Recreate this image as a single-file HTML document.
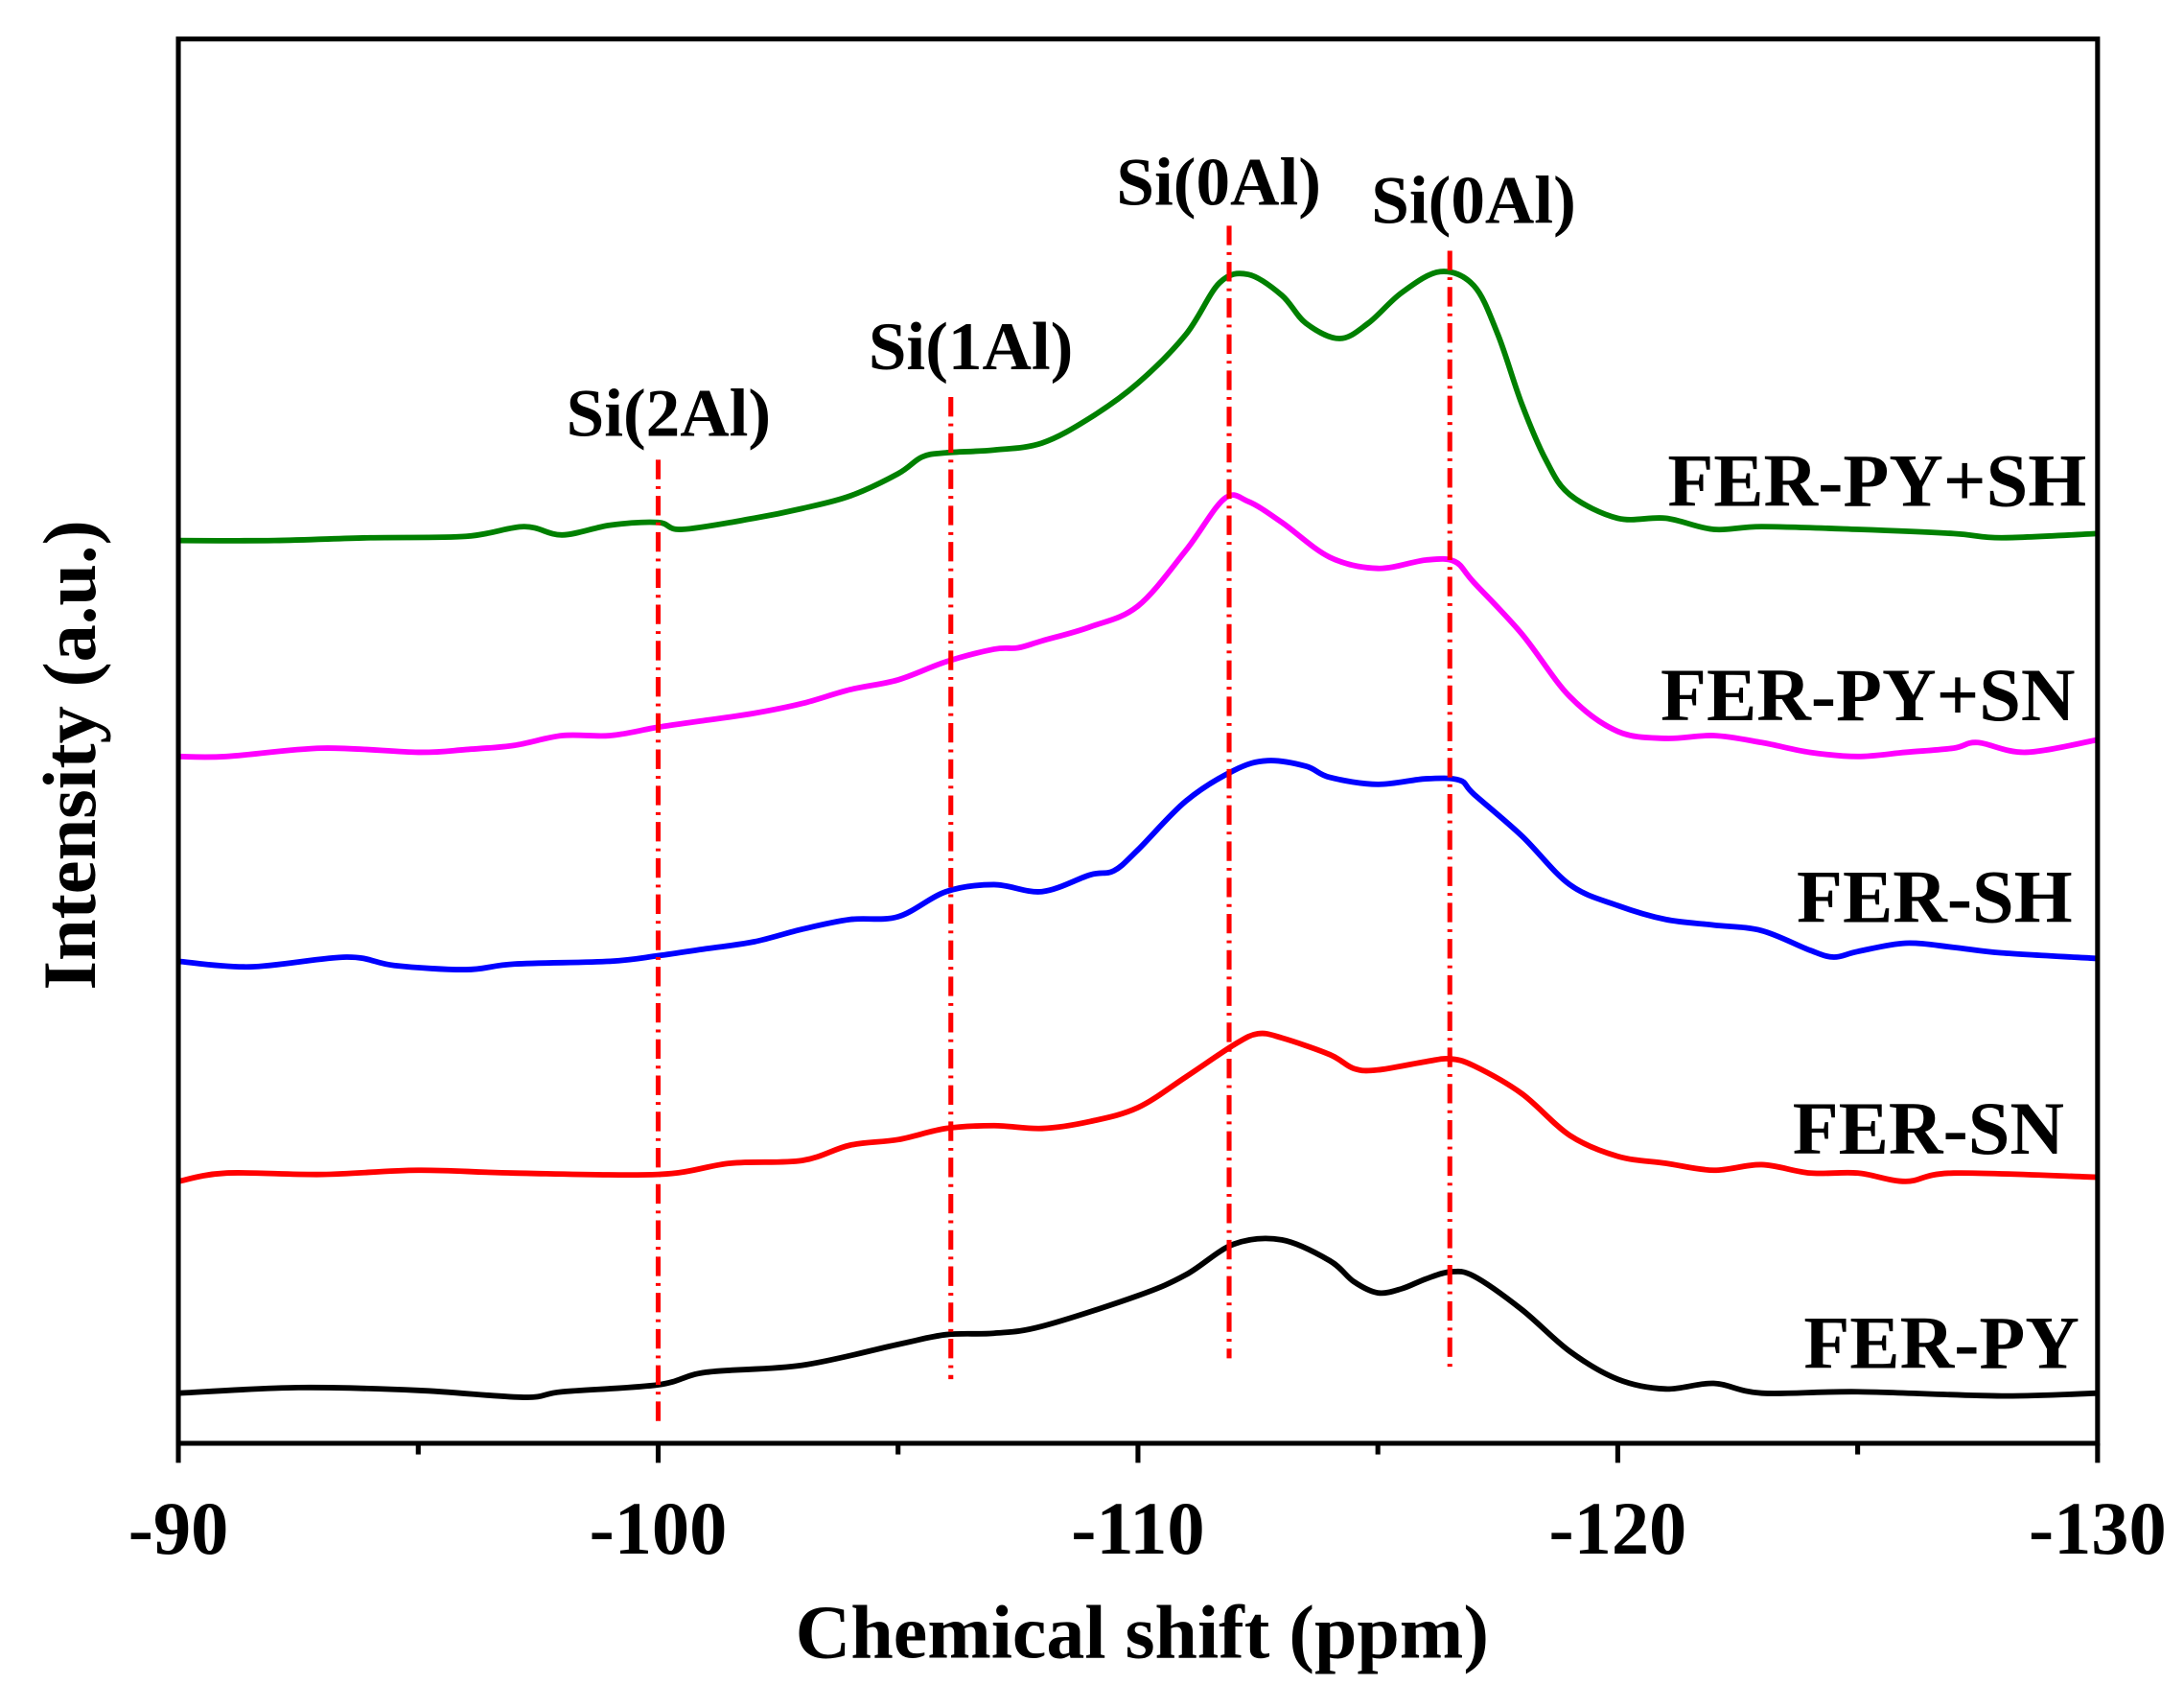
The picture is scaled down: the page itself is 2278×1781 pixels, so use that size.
<!DOCTYPE html>
<html><head><meta charset="utf-8"><style>
html,body{margin:0;padding:0;background:#fff}
svg{display:block}
text{font-family:"Liberation Serif",serif;font-weight:bold;fill:#000}
</style></head><body>
<svg id="chart" width="2278" height="1781" viewBox="0 0 1568 1226" xmlns="http://www.w3.org/2000/svg">
<rect x="0" y="0" width="1568" height="1226" fill="#fff"/>
<g id="marks"></g>
<g id="axes"></g>
</svg>
<script>
const xTicks=[-90,-100,-110,-120,-130];
const pyX=[-90,-92.5,-95,-97.2,-98,-100,-101,-103,-105,-106,-107,-108,-110,-111,-112,-113,-114,-114.5,-115,-115.5,-116,-116.5,-117,-118,-119,-120,-121,-122,-123,-125,-128,-130];
const pyY=[36,40,38,33,37,42,51,56,71,78,79,84,106,121,143,146,131,116,108,111,118,123,120,96,66,46,39,43,36,37,34,36];
const snX=[-90,-91,-93,-95,-97,-100,-101.5,-103,-104,-105,-106,-107,-108,-109,-110,-111,-112,-112.5,-113,-114,-114.5,-115,-116,-116.5,-117,-118,-119,-120,-121,-122,-123,-124,-125,-126,-127,-130];
const snY=[188,194,193,196,194,193,201,203,214,218,226,228,226,231,241,263,286,294,291,279,269,268,274,276,271,251,221,206,201,196,200,194,194,188,194,191];
const shX=[-90,-91.5,-93.5,-94.5,-96,-97,-99,-100,-101,-102,-103,-104,-105,-106,-107,-108,-109,-109.5,-110,-111,-112,-112.7,-113.5,-114,-115,-116,-116.7,-117,-118,-119,-120,-121,-122,-123,-124,-124.5,-125,-126,-127,-128,-130];
const shY=[346,342,349,343,340,344,346,350,355,360,369,376,378,396,401,396,408,411,426,461,483,490,486,478,473,477,476,466,436,401,386,376,372,368,354,349,353,359,356,352,348];
const pysnX=[-90,-91,-93,-95,-96,-97,-98,-99,-100,-101,-102,-103,-104,-105,-106,-107,-107.5,-108,-109,-110,-111,-111.8,-112.3,-113,-114,-115,-116,-116.6,-117,-118,-119,-120,-121,-122,-123,-124,-125,-126,-127,-127.5,-128.5,-130];
const pysnY=[493,493,499,496,498,501,508,508,514,519,524,531,541,548,561,570,571,576,586,601,641,678,676,661,636,628,634,633,618,581,536,511,506,508,503,496,493,496,499,503,496,505];
const pyshX=[-90,-92,-94,-96,-97.2,-98,-99,-100,-100.5,-102,-103,-104,-105,-105.5,-106,-107,-108,-109,-110,-111,-111.7,-112.3,-113,-113.5,-114.2,-114.8,-115.5,-116.3,-117,-117.5,-118,-118.5,-119,-120,-121,-122,-123,-125,-127,-128,-130];
const pyshY=[648,648,650,651,658,652,659,661,656,664,671,680,696,708,711,713,718,736,761,796,833,839,824,804,793,804,826,841,831,796,746,706,681,664,664,656,658,656,653,650,653];
const seriesNames=["FER-PY","FER-SN","FER-SH","FER-PY+SN","FER-PY+SH"];
const refPos=[-100,-106.1,-111.9,-116.5];
const refLabels=["Si(2Al)","Si(1Al)","Si(0Al)","Si(0Al)"];

const L=128,R=1506,T=28,B=1036;
const xs=v=>L+(v-(-90))/(-130-(-90))*(R-L);
const ys=v=>B-v;
const NS="http://www.w3.org/2000/svg";
const marks=document.getElementById('marks'),axes=document.getElementById('axes');
function mk(tag,attrs,parent){const e=document.createElementNS(NS,tag);for(const k in attrs)e.setAttribute(k,attrs[k]);parent.appendChild(e);return e;}
function smooth(X,Y){const p=X.map((x,i)=>[xs(x),ys(Y[i])]);let d=`M${p[0][0]},${p[0][1]}`;
 for(let i=0;i<p.length-1;i++){const p0=p[i-1]||p[i],p1=p[i],p2=p[i+1],p3=p[i+2]||p2;
  const c1=[p1[0]+(p2[0]-p0[0])/6,p1[1]+(p2[1]-p0[1])/6],c2=[p2[0]-(p3[0]-p1[0])/6,p2[1]-(p3[1]-p1[1])/6];
  d+=` C${c1[0]},${c1[1]} ${c2[0]},${c2[1]} ${p2[0]},${p2[1]}`;}return d;}
const series=[[pyX,pyY,"#000","spectrum-fer-py"],[snX,snY,"#f00","spectrum-fer-sn"],[shX,shY,"#00f","spectrum-fer-sh"],[pysnX,pysnY,"#f0f","spectrum-fer-py-sn"],[pyshX,pyshY,"#008000","spectrum-fer-py-sh"]];
series.forEach(s=>{const p=mk('path',{d:smooth(s[0],s[1]),fill:"none",stroke:s[2],"stroke-width":4,"stroke-linejoin":"round"},marks);
 
 });
const refTop=[330,285,162,180],refBot=[1020,990,975,985];
const labY=[313,265,147,160],labX=[480,697,875,1058];
refPos.forEach((v,i)=>{const l=mk('line',{x1:xs(v),x2:xs(v),y1:refTop[i],y2:refBot[i],stroke:"#f00","stroke-width":3.5,"stroke-dasharray":"14,5,2,5"},marks);
 
 
 const t=mk('text',{x:labX[i],y:labY[i],"text-anchor":"middle","font-size":49},marks);t.textContent=refLabels[i];
 
 });
const sLabY=[982,828,662,517,363],sLabX=[1493,1482,1488,1490,1498];
seriesNames.forEach((n,i)=>{const t=mk('text',{x:sLabX[i],y:sLabY[i],"text-anchor":"end","font-size":54},marks);t.textContent=n;
 
 });
const f=mk('rect',{x:L,y:T,width:R-L,height:B-T,fill:"none",stroke:"#000","stroke-width":3.5},axes);


for(let v=-90;v>=-130;v-=5){const major=v%10===0;const l=mk('line',{x1:xs(v),x2:xs(v),y1:B,y2:B+(major?14:8),stroke:"#000","stroke-width":3.5},axes);
 
 }
xTicks.forEach(v=>{const t=mk('text',{x:xs(v),y:1115,"text-anchor":"middle","font-size":54},axes);t.textContent=v;
 
 });
const xt=mk('text',{x:820,y:1190,"text-anchor":"middle","font-size":55},axes);xt.textContent="Chemical shift (ppm)";


const yt=mk('text',{x:0,y:0,"text-anchor":"middle","font-size":54,transform:"translate(68,542) rotate(-90)"},axes);yt.textContent="Intensity (a.u.)";


</script>
</body></html>
